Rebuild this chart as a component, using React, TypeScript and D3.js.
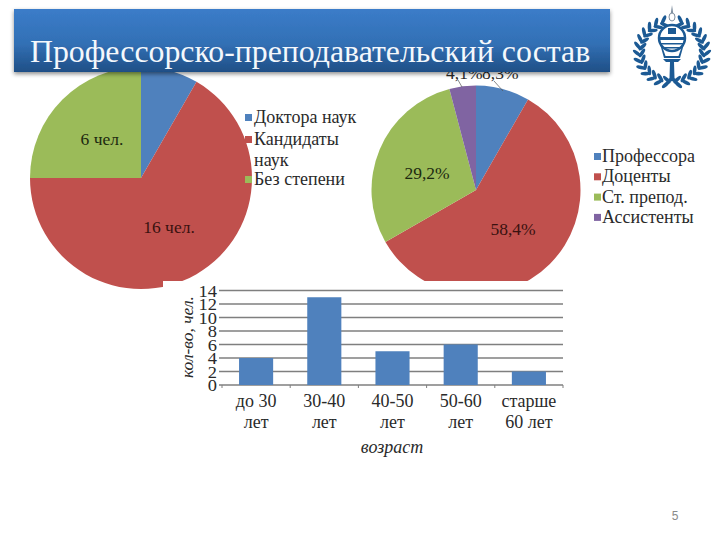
import { useEffect, useRef } from 'react';
import * as d3 from 'd3';

const TITLE = 'Профессорско-преподавательский состав';
const PAGE_NUMBER = '5';

// left pie: degrees
const degreeLabels = ['Доктора наук', 'Кандидаты наук', 'Без степени'];
const degreeValues = [2, 16, 6];
const degreeText = ['', '16 чел.', '6 чел.'];

// right pie: positions
const positionLabels = ['Профессора', 'Доценты', 'Ст. препод.', 'Ассистенты'];
const positionValues = [8.3, 58.4, 29.2, 4.1];
const positionText = ['8,3%', '58,4%', '29,2%', '4,1%'];

// bars
const ageGroups = [['до 30', 'лет'], ['30-40', 'лет'], ['40-50', 'лет'], ['50-60', 'лет'], ['старше', '60 лет']];
const ageCounts = [4, 13, 5, 6, 2];
const yTicks = [0, 2, 4, 6, 8, 10, 12, 14];

const COLORS = ['#4f81bd', '#c0504d', '#9bbb59', '#8064a2'];
const SERIF = '"Liberation Serif", serif';
const INK = '#2a2a2a';
const LOGO = '#1c5a94';

export default function App() {
  const svgRef = useRef<SVGSVGElement>(null);

  useEffect(() => {
    const svg = d3.select(svgRef.current);
    svg.selectAll('*').remove();

    const defs = svg.append('defs');
    const grad = defs.append('linearGradient').attr('id', 'banner').attr('x1', 0).attr('x2', 0).attr('y1', 0).attr('y2', 1);
    grad.append('stop').attr('offset', '0%').attr('stop-color', '#3b7cc9');
    grad.append('stop').attr('offset', '55%').attr('stop-color', '#3270b5');
    grad.append('stop').attr('offset', '100%').attr('stop-color', '#1f4f86');
    const blur = defs.append('filter').attr('id', 'shadow').attr('x', '-5%').attr('y', '-20%').attr('width', '110%').attr('height', '150%');
    blur.append('feDropShadow').attr('dx', 0).attr('dy', 2).attr('stdDeviation', 2).attr('flood-color', '#000').attr('flood-opacity', 0.45);
    defs.append('clipPath').attr('id', 'rightClip').append('rect').attr('x', 360).attr('y', 70).attr('width', 240).attr('height', 211);
    defs.append('clipPath').attr('id', 'leftClip').append('rect').attr('x', 20).attr('y', 70).attr('width', 240).attr('height', 222);

    const pie = d3.pie<number>().sort(null).value((d) => d);

    // left pie
    const leftR = 111;
    const left = svg.append('g').attr('clip-path', 'url(#leftClip)').append('g').attr('transform', 'translate(141,178)');
    const leftArc = d3.arc<d3.PieArcDatum<number>>().innerRadius(0).outerRadius(leftR);

    // left legend goes under the pie, the red marker only peeks out
    const leftLegend = [
      { label: [degreeLabels[0]], y: 118, c: 0 },
      { label: ['Кандидаты', 'наук'], y: 140, c: 1 },
      { label: [degreeLabels[2]], y: 180, c: 2 },
    ];
    leftLegend.forEach((d) => {
      svg.append('rect').attr('x', 245).attr('y', d.y - 4).attr('width', 7).attr('height', 7).attr('fill', COLORS[d.c]);
    });

    left.selectAll('path').data(pie(degreeValues)).enter().append('path')
      .attr('d', leftArc).attr('fill', (_, i) => COLORS[i]);
    svg.append('rect').attr('x', 163).attr('y', 281).attr('width', 30).attr('height', 12).attr('fill', '#fff');
    svg.append('text').attr('x', 102).attr('y', 145).attr('text-anchor', 'middle').attr('font-size', 17.5).attr('font-family', SERIF).attr('fill', '#1d2a10').text(degreeText[2]);
    svg.append('text').attr('x', 169).attr('y', 233).attr('text-anchor', 'middle').attr('font-size', 17.5).attr('font-family', SERIF).attr('fill', '#3a1210').text(degreeText[1]);

    leftLegend.forEach((d) => {
      d.label.forEach((t, i) => {
        svg.append('text').attr('x', 254).attr('y', d.y + 5 + i * 21).attr('font-size', 18).attr('font-family', SERIF).attr('fill', INK).text(t);
      });
    });

    // right pie
    const rightR = 104.5;
    const rcx = 476;
    const rcy = 190;
    const right = svg.append('g').attr('clip-path', 'url(#rightClip)').append('g').attr('transform', `translate(${rcx},${rcy})`);
    const rightArc = d3.arc<d3.PieArcDatum<number>>().innerRadius(0).outerRadius(rightR);
    right.selectAll('path').data(pie(positionValues)).enter().append('path')
      .attr('d', rightArc).attr('fill', (_, i) => COLORS[i]);
    svg.append('text').attr('x', 427).attr('y', 179).attr('text-anchor', 'middle').attr('font-size', 17.5).attr('font-family', SERIF).attr('fill', '#1d2a10').text(positionText[2]);
    svg.append('text').attr('x', 513).attr('y', 235).attr('text-anchor', 'middle').attr('font-size', 17.5).attr('font-family', SERIF).attr('fill', '#3a1210').text(positionText[1]);

    // leader lines and the labels half hidden under the banner
    svg.append('text').attr('x', 446).attr('y', 79).attr('font-size', 17.5).attr('font-family', SERIF).attr('fill', INK).text(positionText[3]);
    svg.append('text').attr('x', 482).attr('y', 79).attr('font-size', 17.5).attr('font-family', SERIF).attr('fill', INK).text(positionText[0]);
    svg.append('path').attr('d', 'M458 80L462 87M494 81L503 91').attr('stroke', '#555').attr('stroke-width', 0.7).attr('fill', 'none');

    positionLabels.forEach((t, i) => {
      const y = 157 + i * 20.3;
      svg.append('rect').attr('x', 594).attr('y', y - 4).attr('width', 7).attr('height', 7).attr('fill', COLORS[i]);
      svg.append('text').attr('x', 602).attr('y', y + 5).attr('font-size', 18).attr('font-family', SERIF).attr('fill', INK).text(t);
    });

    // banner
    svg.append('rect').attr('x', 14).attr('y', 9).attr('width', 596).attr('height', 63).attr('fill', 'url(#banner)').attr('filter', 'url(#shadow)');
    svg.append('text').attr('x', 30).attr('y', 62).attr('font-size', 31.8).attr('font-family', SERIF).attr('fill', '#f4f8fc').text(TITLE);

    // logo: wreath, globe, anchor
    const logo = svg.append('g').attr('transform', 'translate(672,52)').attr('fill', LOGO);
    [-1, 1].forEach((side) => {
      d3.range(14, 172, 13).forEach((deg) => {
        const a = (deg * Math.PI) / 180;
        const px = side * Math.sin(a);
        const py = -Math.cos(a);
        const rot = side * deg;
        logo.append('ellipse').attr('rx', 1.8).attr('ry', 5)
          .attr('transform', `translate(${px * 35},${py * 33}) rotate(${rot - side * 40})`);
        logo.append('ellipse').attr('rx', 1.8).attr('ry', 5)
          .attr('transform', `translate(${px * 30},${py * 28}) rotate(${rot - side * 125})`);
      });
    });
    logo.append('circle').attr('cy', -14).attr('r', 13).attr('fill', '#fff').attr('stroke', LOGO).attr('stroke-width', 2.5);
    logo.append('path').attr('d', 'M-12 -15H12V-12H-12ZM-11 -9H11V-7.5H-11ZM-9 -5H9V-3.5H-9ZM-4 -24H4V-18H-4Z');
    logo.append('path').attr('d', 'M-12 -8L-8 6H8L12 -8L10 -6L6.5 4H-6.5L-10 -6Z');
    logo.append('path').attr('d', 'M-9 7H9L6 10H-6ZM-2 10H2L2.5 26L9 34L0 29L-9 34L-2.5 26Z');
    logo.append('ellipse').attr('cy', -35).attr('rx', 3).attr('ry', 4).attr('fill', 'none').attr('stroke', '#7f8fa0').attr('stroke-width', 1);
    logo.append('path').attr('d', 'M0 -47L1.2 -39H-1.2Z').attr('fill', '#7f8fa0');

    // bar chart
    const x = d3.scaleBand<number>().domain(d3.range(ageCounts.length)).range([222, 563]);
    const y = d3.scaleLinear().domain([0, 14]).range([385, 290.5]);

    yTicks.forEach((t) => {
      svg.append('line').attr('x1', 219).attr('x2', 563).attr('y1', y(t)).attr('y2', y(t)).attr('stroke', '#7f7f7f').attr('stroke-width', 1.3);
      svg.append('text').attr('transform', `translate(217,${y(t) + 6}) scale(1.12,1)`).attr('text-anchor', 'end').attr('font-size', 16.5).attr('font-family', SERIF).attr('fill', INK).text(t);
    });
    d3.range(ageCounts.length + 1).forEach((i) => {
      const tx = 222 + ((563 - 222) / ageCounts.length) * i;
      svg.append('line').attr('x1', tx).attr('x2', tx).attr('y1', 385).attr('y2', 388).attr('stroke', '#7f7f7f');
    });
    svg.selectAll('.bar').data(ageCounts).enter().append('rect').attr('class', 'bar')
      .attr('x', (_, i) => (x(i) ?? 0) + x.bandwidth() * 0.25)
      .attr('width', x.bandwidth() * 0.5)
      .attr('y', (d) => y(d))
      .attr('height', (d) => y(0) - y(d))
      .attr('fill', COLORS[0]);
    ageGroups.forEach((lines, i) => {
      const cx = (x(i) ?? 0) + x.bandwidth() / 2;
      lines.forEach((t, j) => {
        svg.append('text').attr('x', cx).attr('y', 407 + j * 20.5).attr('text-anchor', 'middle').attr('font-size', 18).attr('font-family', SERIF).attr('fill', INK).text(t);
      });
    });
    svg.append('text').attr('x', 392).attr('y', 453).attr('text-anchor', 'middle').attr('font-size', 18).attr('font-style', 'italic').attr('font-family', SERIF).attr('fill', INK).text('возраст');
    svg.append('text').attr('transform', 'translate(193,337) rotate(-90)').attr('text-anchor', 'middle').attr('font-size', 17.5).attr('font-style', 'italic').attr('font-family', SERIF).attr('fill', INK).text('кол-во, чел.');

    svg.append('text').attr('x', 675).attr('y', 520).attr('text-anchor', 'middle').attr('font-size', 12).attr('font-family', '"Liberation Sans", sans-serif').attr('fill', '#8a8a8a').text(PAGE_NUMBER);
  }, []);

  return <svg ref={svgRef} width={720} height={540} style={{ position: 'absolute', left: 0, top: 0, background: '#fff' }} />;
}
